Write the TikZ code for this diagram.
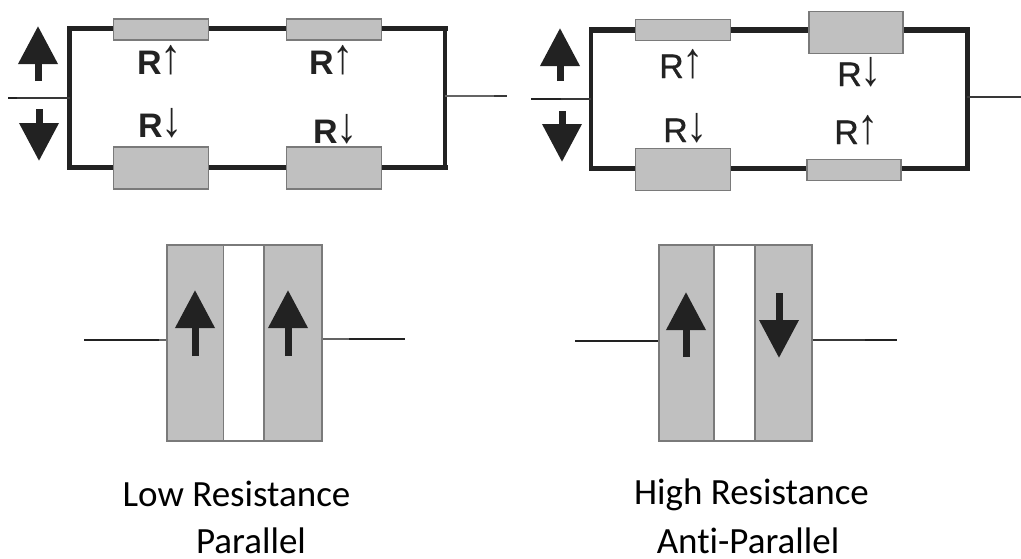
\documentclass[tikz,border=0pt]{standalone}
\usepackage{fontspec}
\usepackage{graphicx}
\setmainfont[Ligatures=NoCommon]{Carlito}
\newfontfamily\lblfont{Liberation Sans}
\newfontfamily\semifont[FakeBold=0.8]{Liberation Sans}
\usetikzlibrary{arrows.meta}
\definecolor{fillgray}{HTML}{C0C0C0}
\definecolor{edgegray}{HTML}{7A7A7A}
\definecolor{inkdark}{HTML}{222222}
\newcommand{\upa}{\kern-1pt\raisebox{1pt}{\scalebox{0.85}[1]{\lblfont\mdseries\fontsize{50}{50}\selectfont ↑}}}
\newcommand{\dna}{\kern-1pt\raisebox{1pt}{\scalebox{0.85}[1]{\lblfont\mdseries\fontsize{50}{50}\selectfont ↓}}}
\tikzset{
  res/.style={draw=edgegray,line width=1.6pt,fill=fillgray,inner sep=0pt,minimum width=#1},
  res/.default=95pt,
  slim/.style={res,minimum height=21pt},
  fat/.style={res,minimum height=42pt},
  wire/.style={draw=inkdark,line width=#1,line cap=rect},
  lead/.style={draw=inkdark,line width=2.4pt},
  medlead/.style={draw=inkdark!90,line width=1.6pt},
  thinlead/.style={draw=inkdark!70,line width=1.1pt},
  spin/.style={draw=inkdark,line width=7pt,-{Triangle[width=38pt,length=38pt]}},
  layer/.style={draw=edgegray,line width=1.4pt,fill=fillgray,inner sep=0pt,minimum height=196pt},
  gap/.style={draw=edgegray,line width=1.4pt,fill=white,inner sep=0pt,minimum height=196pt},
  rl/.style={font=\lblfont\bfseries\fontsize{34}{34}\selectfont,inner sep=0pt,text=inkdark,anchor=base west},
  rr/.style={font=\semifont\fontsize{34}{34}\selectfont,inner sep=0pt,text=inkdark,anchor=base west},
  captxt/.style={font=\fontsize{37}{37}\selectfont,inner sep=0pt,text=black,anchor=base},
}
\begin{document}
\begin{tikzpicture}[x=1pt,y=-1pt]
\useasboundingbox (0,0) rectangle (1021,558);
% ---------- left circuit
\coordinate (aTL) at (69.7,28.7); \coordinate (aTR) at (445,28.7);
\coordinate (aBL) at (69.7,167.7); \coordinate (aBR) at (445,167.7);
\coordinate (aIn) at (69.7,98); \coordinate (aInMid) at (17,98); \coordinate (aInEnd) at (8,98);
\coordinate (aOut) at (445,96); \coordinate (aOutMid) at (494,96); \coordinate (aOutEnd) at (507,96);
\draw[wire=5.5pt] (aTL) -- (aTR);
\draw[wire=5pt] (aTL) -- (aBL);
\draw[wire=4.5pt] (aTR) -- (aBR);
\draw[wire=5pt] (aBL) -- (aBR);
\draw[medlead] (aIn) -- (aInEnd);
\draw[lead] (aInMid) -- (aInEnd);
\draw[thinlead] (aOut) -- (aOutEnd);
\draw[medlead] (aOutMid) -- (aOutEnd);
\node[slim] (a1) at (161,29.5) {};
\node[slim] (a2) at (334,29.5) {};
\node[fat] (a3) at (161,168) {};
\node[fat] (a4) at (334,168) {};
\node[rl] (la1) at (137,74) {R\upa};
\node[rl] (la2) at (309,74) {R\upa};
\node[rl] (la3) at (138,137) {R\dna};
\node[rl] (la4) at (313,143) {R\dna};
\coordinate (asU0) at (38,81); \coordinate (asU1) at (38,26);
\coordinate (asD0) at (39,109); \coordinate (asD1) at (39,161);
\draw[spin] (asU0) -- (asU1);
\draw[spin] (asD0) -- (asD1);
% ---------- right circuit
\coordinate (bTL) at (591.3,30); \coordinate (bTR) at (967.3,30);
\coordinate (bBL) at (591.3,168.7); \coordinate (bBR) at (967.3,168.7);
\coordinate (bIn) at (591.3,99); \coordinate (bInMid) at (561,99); \coordinate (bInEnd) at (531,99);
\coordinate (bOut) at (967.3,97); \coordinate (bOutEnd) at (1021,97);
\draw[wire=5.5pt] (bTL) -- (bTR);
\draw[wire=4pt] (bTL) -- (bBL);
\draw[wire=5pt] (bTR) -- (bBR);
\draw[wire=5pt] (bBL) -- (bBR);
\draw[medlead] (bIn) -- (bInEnd);
\draw[lead] (bInMid) -- (bInEnd);
\draw[medlead] (bOut) -- (bOutEnd);
\node[slim] (b1) at (683,30) {};
\node[fat,res=94pt] (b2) at (856,32.5) {};
\node[fat] (b3) at (683,169.5) {};
\node[slim,res=94pt] (b4) at (854,170) {};
\node[rr] (lb1) at (659,78) {R\upa};
\node[rr] (lb2) at (837,86) {R\dna};
\node[rr] (lb3) at (663,142) {R\dna};
\node[rr] (lb4) at (834,144) {R\upa};
\coordinate (bsU0) at (560,81); \coordinate (bsU1) at (560,28);
\coordinate (bsD0) at (562,111); \coordinate (bsD1) at (562,162);
\draw[spin] (bsU0) -- (bsU1);
\draw[spin] (bsD0) -- (bsD1);
% ---------- lower left stack
\coordinate (cIn) at (84,340); \coordinate (cInMid) at (159,340);
\coordinate (cOut) at (405,339); \coordinate (cOutMid) at (349,339);
\node[layer,minimum width=56.5pt] (c1) at (195.25,343) {};
\node[gap,minimum width=40.5pt] (c2) at (243.75,343) {};
\node[layer,minimum width=58pt] (c3) at (293,343) {};
\draw[thinlead] (cInMid) -- (c1.west |- cIn);
\draw[lead] (cIn) -- (cInMid);
\draw[thinlead] (c3.east |- cOut) -- (cOutMid);
\draw[lead] (cOutMid) -- (cOut);
\coordinate (csA0) at (195,356); \coordinate (csA1) at (195,290);
\coordinate (csB0) at (288,356); \coordinate (csB1) at (288,290);
\draw[spin] (csA0) -- (csA1);
\draw[spin] (csB0) -- (csB1);
% ---------- lower right stack
\coordinate (dIn) at (575,341); \coordinate (dOut) at (897,340); \coordinate (dOutMid) at (865,340);
\node[layer,minimum width=55pt] (d1) at (686.5,343) {};
\node[gap,minimum width=41pt] (d2) at (734.5,343) {};
\node[layer,minimum width=57pt] (d3) at (783.5,343) {};
\draw[lead] (dIn) -- (d1.west |- dIn);
\draw[medlead] (d3.east |- dOut) -- (dOutMid);
\draw[lead] (dOutMid) -- (dOut);
\coordinate (dsA0) at (686,357); \coordinate (dsA1) at (686,292);
\coordinate (dsB0) at (779,293); \coordinate (dsB1) at (779,358);
\draw[spin] (dsA0) -- (dsA1);
\draw[spin] (dsB0) -- (dsB1);
% ---------- captions
\node[captxt] (t1) at (236.5,506) {Low Resistance};
\node[captxt] (t2) at (251,553) {Parallel};
\node[captxt] (t3) at (751.5,504) {High Resistance};
\node[captxt] (t4) at (748,553) {Anti-Parallel};
\end{tikzpicture}
\end{document}
